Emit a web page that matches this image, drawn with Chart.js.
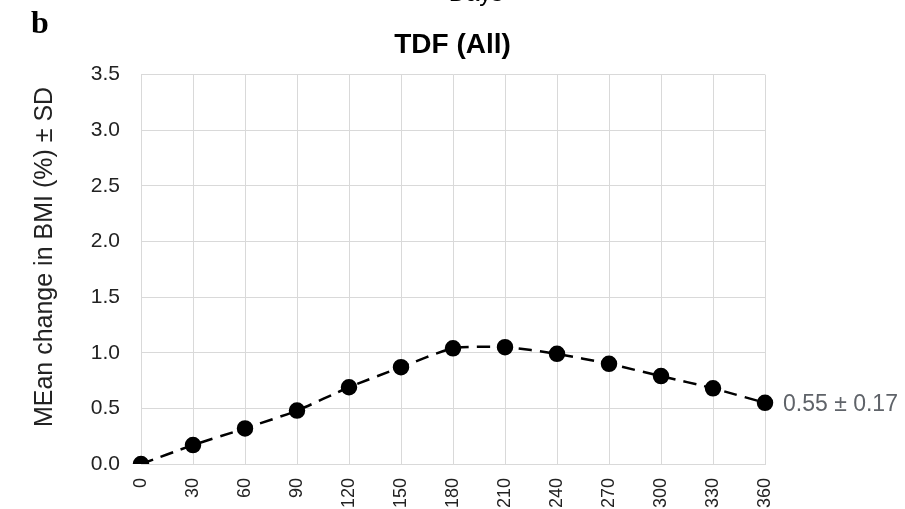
<!DOCTYPE html>
<html>
<head>
<meta charset="utf-8">
<script src="https://cdn.jsdelivr.net/npm/chart.js@4/dist/chart.umd.min.js"></script>
<style>
  html, body { margin: 0; padding: 0; background: #fff; overflow: hidden; }
  #wrap { width: 905px; height: 509px; }
</style>
</head>
<body>
<div id="wrap"><canvas id="chart"></canvas></div>
<script>
const days = ['0', '30', '60', '90', '120', '150', '180', '210', '240', '270', '300', '330', '360'];
const meanChange = [0, 0.17, 0.32, 0.48, 0.69, 0.87, 1.04, 1.05, 0.99, 0.90, 0.79, 0.68, 0.55];
const yTicks = [0, 0.5, 1.0, 1.5, 2.0, 2.5, 3.0, 3.5];
const endLabel = '0.55 ± 0.17';
const yTitle = 'MEan change in BMI (%) ± SD';

const FONT = "'Liberation Sans', Arial, sans-serif";
const GRID = '#d9d9d9';

// extra texts: panel letter, clipped axis title of the panel above, y title, end value
const extras = {
  id: 'extras',
  afterDraw(chart) {
    const { ctx } = chart;
    ctx.save();
    ctx.fillStyle = '#000';
    ctx.font = "bold 32px 'Liberation Serif', 'Times New Roman', serif";
    ctx.textAlign = 'left';
    ctx.textBaseline = 'alphabetic';
    ctx.fillText('b', 31, 33);

    ctx.font = `24px ${FONT}`;
    ctx.textAlign = 'center';
    ctx.fillText('Days', 476, 1);

    // y axis title, a little above the plot's middle like the original
    ctx.save();
    ctx.translate(45, 257);
    ctx.rotate(-Math.PI / 2);
    ctx.fillStyle = '#222';
    ctx.font = `25px ${FONT}`;
    ctx.textBaseline = 'middle';
    ctx.fillText(yTitle, 0, 0);
    ctx.restore();

    const meta = chart.getDatasetMeta(0);
    const last = meta.data[meta.data.length - 1];
    ctx.fillStyle = '#5f6369';
    ctx.font = `23px ${FONT}`;
    ctx.textAlign = 'left';
    ctx.textBaseline = 'middle';
    ctx.fillText(endLabel, last.x + 18, last.y + 2);
    ctx.restore();
  }
};

new Chart(document.getElementById('chart'), {
  type: 'line',
  data: {
    labels: days,
    datasets: [{
      data: meanChange,
      borderColor: '#000',
      borderWidth: 2.5,
      borderDash: [13, 8],
      pointRadius: 7,
      pointBackgroundColor: '#000',
      pointBorderColor: '#000',
      tension: 0.2,
      fill: false
    }]
  },
  options: {
    responsive: true,
    maintainAspectRatio: false,
    animation: false,
    layout: { padding: 0 },
    plugins: {
      legend: { display: false },
      tooltip: { enabled: false },
      title: {
        display: true,
        text: 'TDF (All)',
        color: '#000',
        font: { family: FONT, size: 28, weight: 'bold' },
        padding: { top: 28, bottom: 13 }
      }
    },
    scales: {
      x: {
        type: 'category',
        offset: false,
        grid: { color: GRID, drawTicks: false },
        border: { color: GRID },
        ticks: {
          color: '#222',
          font: { family: FONT, size: 18 },
          minRotation: 90,
          maxRotation: 90,
          padding: 14,
          autoSkip: false
        },
        afterFit(s) { s.height = 45; }
      },
      y: {
        min: 0,
        max: 3.5,
        afterBuildTicks(s) { s.ticks = yTicks.map(v => ({ value: v })); },
        grid: { color: GRID, drawTicks: false },
        border: { color: GRID },
        ticks: {
          color: '#222',
          font: { family: FONT, size: 21 },
          padding: 21,
          callback: v => v.toFixed(1)
        },
        afterFit(s) { s.width = 141; }
      },
      spacer: {
        position: 'right',
        min: 0,
        max: 3.5,
        grid: { drawOnChartArea: false, drawTicks: false },
        border: { display: false },
        ticks: { display: false },
        afterFit(s) { s.width = 140; }
      }
    }
  },
  plugins: [extras]
});
</script>
</body>
</html>
